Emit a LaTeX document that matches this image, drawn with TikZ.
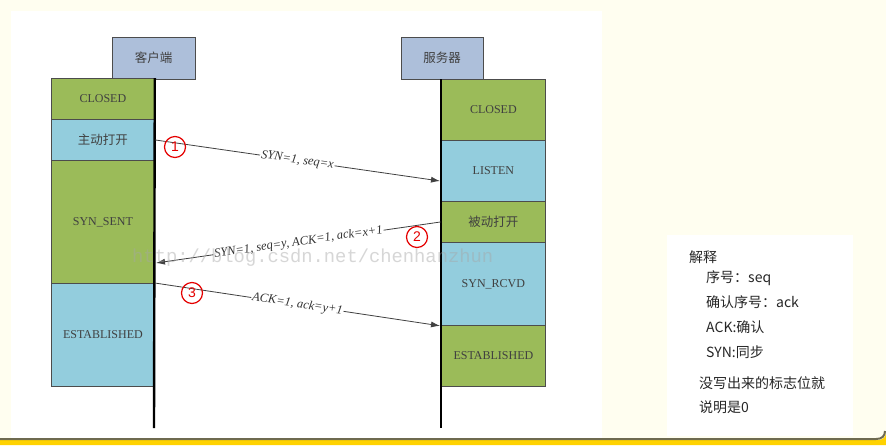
\documentclass[tikz,border=0pt]{standalone}
\usepackage{fontspec}
\setmainfont{Liberation Serif}
\newfontfamily\cjk{Noto Sans CJK SC}
\newfontfamily\monofam{Liberation Mono}
\newfontfamily\numfam{Liberation Sans}
\usetikzlibrary{arrows.meta}
\definecolor{pagebg}{HTML}{FFFEF0}
\definecolor{stgreen}{HTML}{9BBB59}
\definecolor{stcyan}{HTML}{93CDDD}
\definecolor{hdblue}{HTML}{ADBFDA}
\definecolor{bandgold}{HTML}{FFD200}
\definecolor{bandline}{HTML}{6E6A50}
\begin{document}
\begin{tikzpicture}[x=1pt,y=-1pt,
  hdbox/.style={draw=black!70, line width=0.8pt, fill=hdblue, inner sep=0pt,
    minimum height=42, font=\cjk\fontsize{12.5}{14}\selectfont, text=black!75},
  stbox/.style={draw=black!70, line width=0.8pt, inner sep=0pt, anchor=north west,
    font=\fontsize{12}{14}\selectfont, text=black!75},
  cjkst/.style={font=\cjk\fontsize{12.5}{14}\selectfont},
  life/.style={line width=2.4pt, black},
  msg/.style={draw=black!75, line width=0.8pt, -{Latex[length=9pt,width=6pt]}},
  lbl/.style={fill=white, inner sep=1pt, sloped, text=black!80,
    font=\itshape\fontsize{12.5}{14}\selectfont},
  stepmark/.style={draw=red!90!black, line width=1.2pt, circle, minimum size=21pt,
    inner sep=0pt, text=red!90!black, font=\numfam\fontsize{14}{14}\selectfont},
  note/.style={anchor=west, inner sep=0pt, text=black!85,
    font=\cjk\fontsize{14}{16}\selectfont}]
\useasboundingbox (0,0) rectangle (886,445);

% backgrounds
\fill[pagebg] (0,0) rectangle (886,445);
\fill[white] (11,11) rectangle (602,438);
\fill[white] (667,235) rectangle (853,436);
\fill[bandgold] (0,440) -- (877,440) .. controls (884,440) and (886,437) .. (886,431)
  -- (886,445) -- (0,445) -- cycle;
\draw[bandline, line width=2pt] (0,439) -- (876,439) .. controls (882,439) and (885,436) .. (885,431);

% headers
\node[hdbox, minimum width=83] (hc) at (153.5,58) {客户端};
\node[hdbox, minimum width=82] (hs) at (442,58) {服务器};

% client states
\node[stbox, fill=stgreen, minimum width=103, minimum height=41] (cC) at (51,78) {CLOSED};
\node[stbox, fill=stcyan, minimum width=103, minimum height=41, cjkst] (cA) at (51,119) {主动打开};
\node[stbox, fill=stgreen, minimum width=103, minimum height=123] (cS) at (51,160) {SYN\_SENT};
\node[stbox, fill=stcyan, minimum width=103, minimum height=103] (cE) at (51,283) {ESTABLISHED};

% server states
\node[stbox, fill=stgreen, minimum width=104, minimum height=61] (sC) at (441,79) {CLOSED};
\node[stbox, fill=stcyan, minimum width=104, minimum height=61] (sL) at (441,140) {LISTEN};
\node[stbox, fill=stgreen, minimum width=104, minimum height=41, cjkst] (sP) at (441,201) {被动打开};
\node[stbox, fill=stcyan, minimum width=104, minimum height=83] (sR) at (441,242) {SYN\_RCVD};
\node[stbox, fill=stgreen, minimum width=104, minimum height=61] (sE) at (441,325) {ESTABLISHED};

% lifelines
\coordinate (cEnd) at (154,428);
\coordinate (sEnd) at (441,428);
\draw[life] (cC.north east) -- (cEnd);
\draw[life] (sC.north west) -- (sEnd);

% handshake messages
\coordinate (m1) at (440,181);
\coordinate (m2) at (156,263);
\draw[msg] (cA.east) -- node[lbl] {SYN=1, seq=x} (m1);
\draw[msg] (sP.west) -- node[lbl] {SYN=1, seq=y, ACK=1, ack=x+1} (m2);
\draw[msg] (cE.north east) -- node[lbl] {ACK=1, ack=y+1} ([xshift=-1pt]sR.south west);

% step numbers
\node[stepmark] (n1) at (175,147) {1};
\node[stepmark] (n2) at (417,237) {2};
\node[stepmark] (n3) at (192,293) {3};

% watermark
\node[anchor=west, inner sep=0pt, text=black!35, opacity=0.45,
  font=\monofam\fontsize{18.8}{20}\selectfont] (wm) at (132,258) {http://blog.csdn.net/chenhanzhun};

% notes
\node[note] (t0) at (689,257) {解释};
\node[note] (t1) at (706,278) {序号：seq};
\node[note] (t2) at (706,302) {确认序号：ack};
\node[note] (t3) at (706,327) {ACK:确认};
\node[note] (t4) at (706,352) {SYN:同步};
\node[note] (t5) at (699,383) {没写出来的标志位就};
\node[note] (t6) at (699,407) {说明是0};
\end{tikzpicture}
\end{document}
